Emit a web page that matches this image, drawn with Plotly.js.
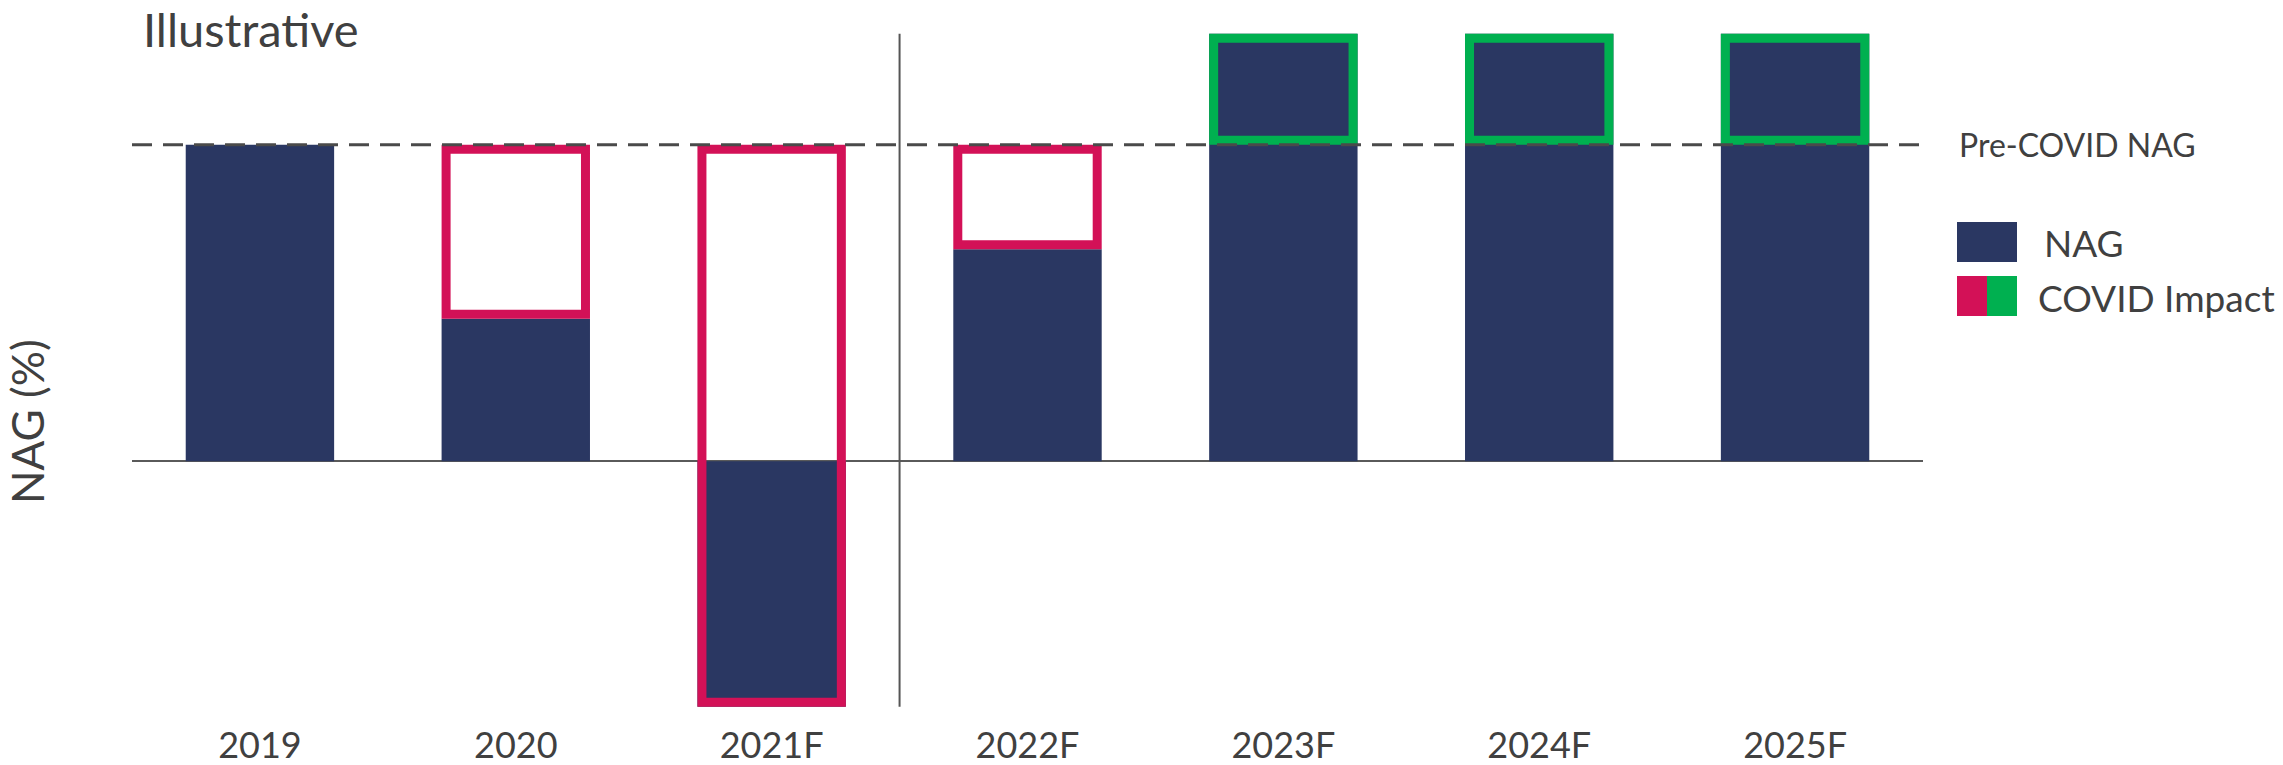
<!DOCTYPE html>
<html>
<head>
<meta charset="utf-8">
<script src="https://cdn.plot.ly/plotly-3.0.1.min.js"></script>
<style>html,body{margin:0;padding:0;background:#fff;}#chart{width:2283px;height:765px;}</style>
</head>
<body>
<div id="chart"></div>
<script>
// ---- data ----
const categories = ["2019", "2020", "2021F", "2022F", "2023F", "2024F", "2025F"];
const nagValues = [10, 4.5, -7.75, 6.7, 13.5, 13.5, 13.5];
const preCovidNag = 10;
const axisTitle = "NAG (%)";
const noteText = "Illustrative";
const preCovidLabel = "Pre-COVID NAG";
const legendLabels = ["NAG", "COVID Impact"];

// ---- styles ----
const NAVY = "#2A3762", RED = "#D31157", GREEN = "#00B050", TXT = "#404040";
const W = 2283, H = 765;
const M = {l: 132, r: 360, t: 18, b: 44};
const yRange = [-8.2, 14];
const plotW = W - M.l - M.r, plotH = H - M.t - M.b;
const pxPerY = plotH / (yRange[1] - yRange[0]);
const pxPerX = plotW / categories.length;
const stroke = 9;
const barW = 0.58;
const padY = (stroke / 2) / pxPerY;
const impW = barW - stroke / pxPerX;

// impact boxes derived from data
const impBase = [], impLen = [], impColor = [];
nagValues.forEach(v => {
  const lo = Math.min(v, preCovidNag), hi = Math.max(v, preCovidNag);
  if (hi - lo < 1e-9) { impBase.push(null); impLen.push(null); impColor.push(NAVY); return; }
  impBase.push(lo + padY);
  impLen.push(hi - lo - 2 * padY);
  impColor.push(v < preCovidNag ? RED : GREEN);
});

const traces = [
  {type: "bar", x: categories, y: nagValues, width: barW,
   marker: {color: NAVY, line: {width: 0}}, hoverinfo: "skip", showlegend: false},
  {type: "bar", x: categories, y: impLen, base: impBase, width: impW,
   marker: {color: "rgba(0,0,0,0)", line: {width: stroke, color: impColor}},
   hoverinfo: "skip", showlegend: false}
];

const minV = Math.min(...nagValues), maxV = Math.max(...nagValues);

const px2paperX = px => (px - M.l) / plotW;
const px2paperY = py => (H - M.b - py) / plotH;

const shapes = [
  {type: "line", xref: "paper", yref: "y", x0: 0, x1: 1, y0: preCovidNag, y1: preCovidNag,
   line: {color: "#4A4A4A", width: 3, dash: "20px,11px"}, layer: "above"},
  {type: "line", xref: "x", yref: "y", x0: 2.5, x1: 2.5, y0: minV, y1: maxV,
   line: {color: "#555555", width: 2}, layer: "above"},
  // legend swatches
  {type: "rect", xref: "paper", yref: "paper",
   x0: px2paperX(1957), x1: px2paperX(2017), y0: px2paperY(262), y1: px2paperY(222),
   fillcolor: NAVY, line: {width: 0}},
  {type: "rect", xref: "paper", yref: "paper",
   x0: px2paperX(1957), x1: px2paperX(1987), y0: px2paperY(316), y1: px2paperY(276),
   fillcolor: RED, line: {width: 0}},
  {type: "rect", xref: "paper", yref: "paper",
   x0: px2paperX(1987), x1: px2paperX(2017), y0: px2paperY(316), y1: px2paperY(276),
   fillcolor: GREEN, line: {width: 0}}
];

const annotations = [
  {text: noteText, xref: "paper", yref: "paper", x: px2paperX(142), y: px2paperY(0),
   xanchor: "left", yanchor: "top", showarrow: false, borderpad: 0,
   font: {family: "Lato", size: 47, color: TXT}},
  {text: axisTitle, xref: "paper", yref: "paper", x: px2paperX(27), y: px2paperY(422),
   xanchor: "center", yanchor: "middle", textangle: -90, showarrow: false,
   font: {family: "Lato", size: 44, color: TXT}},
  {text: preCovidLabel, xref: "paper", yref: "y", x: px2paperX(1957), y: preCovidNag,
   xanchor: "left", yanchor: "middle", showarrow: false,
   font: {family: "Lato", size: 32, color: TXT}},
  {text: legendLabels[0], xref: "paper", yref: "paper", x: px2paperX(2042), y: px2paperY(243),
   xanchor: "left", yanchor: "middle", showarrow: false,
   font: {family: "Lato", size: 37, color: TXT}},
  {text: legendLabels[1], xref: "paper", yref: "paper", x: px2paperX(2036), y: px2paperY(297),
   xanchor: "left", yanchor: "middle", showarrow: false,
   font: {family: "Lato", size: 37, color: TXT}}
];

const layout = {
  width: W, height: H, margin: M,
  paper_bgcolor: "#fff", plot_bgcolor: "#fff",
  barmode: "overlay", showlegend: false,
  xaxis: {type: "category", range: [-0.5, categories.length - 0.5], showgrid: false,
    showline: false, zeroline: false, ticks: "", fixedrange: true,
    tickfont: {family: "Lato", size: 36, color: TXT}},
  yaxis: {range: yRange, showgrid: false, showticklabels: false, showline: false,
    zeroline: true, zerolinecolor: "#5A5A5A", zerolinewidth: 2, ticks: "", fixedrange: true},
  shapes: shapes, annotations: annotations
};

Plotly.newPlot("chart", traces, layout, {staticPlot: true, displayModeBar: false});
</script>
</body>
</html>
